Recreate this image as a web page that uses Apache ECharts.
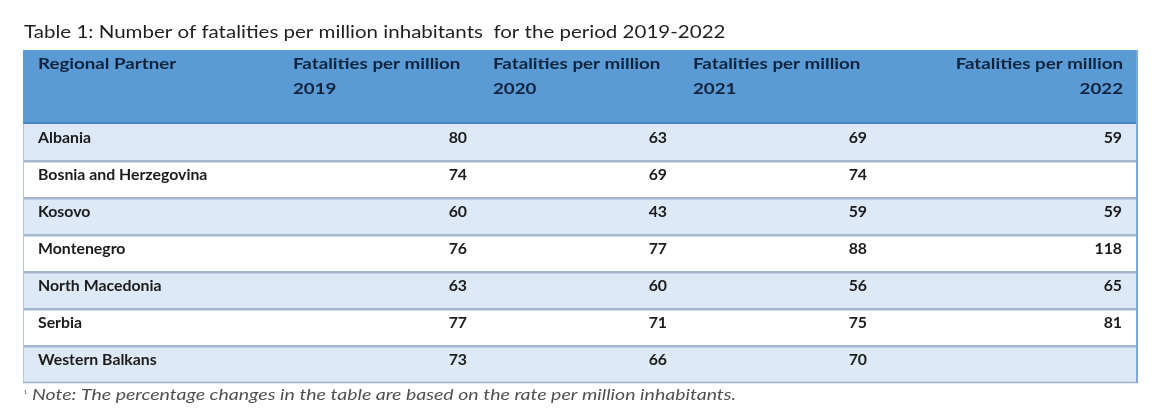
<!DOCTYPE html>
<html>
<head>
<meta charset="utf-8">
<script src="https://cdn.jsdelivr.net/npm/echarts@6/dist/echarts.min.js"></script>
<style>html,body{margin:0;padding:0;background:#fff;}#main{width:1156px;height:418px;}</style>
</head>
<body>
<div id="main"></div>
<script>
// ---- data ----
const regions = ['Albania', 'Bosnia and Herzegovina', 'Kosovo', 'Montenegro', 'North Macedonia', 'Serbia', 'Western Balkans'];
const fat2019 = [80, 74, 60, 76, 63, 77, 73];
const fat2020 = [63, 69, 43, 77, 60, 71, 66];
const fat2021 = [69, 74, 59, 88, 56, 75, 70];
const fat2022 = [59, null, 59, 118, 65, 81, null];
const headerLabels = ['Regional Partner', 'Fatalities per million\n2019', 'Fatalities per million\n2020', 'Fatalities per million\n2021', 'Fatalities per million\n2022'];
const titleText = 'Table 1: Number of fatalities per million inhabitants  for the period 2019-2022';
const noteText = 'Note: The percentage changes in the table are based on the rate per million inhabitants.';

// ---- layout (not data) ----
const colEdges = [0, 260, 460, 660, 860, 1115];
const TOTAL = colEdges[colEdges.length - 1];
const HEADER_UNITS = 2;
const FONT = 'Lato, "Noto Sans", sans-serif';
const HEADER_SCALE = 1.17;
const BODY_SCALE = 0.99;
const columns = [null, fat2019, fat2020, fat2021, fat2022];

function renderHeader(params, api) {
  const tl = api.coord([0, 0]);
  const br = api.coord([TOTAL, HEADER_UNITS]);
  const children = [{
    type: 'rect', shape: {x: tl[0], y: tl[1], width: br[0] - tl[0], height: br[1] - tl[1]},
    style: {fill: '#5b9bd5'}
  }, {
    type: 'rect', shape: {x: tl[0], y: br[1] - 2, width: br[0] - tl[0], height: 2},
    style: {fill: '#4a83bb'}
  }];
  headerLabels.forEach(function (lab, c) {
    const last = c === headerLabels.length - 1;
    const x = last ? api.coord([colEdges[c + 1] - 15, 0])[0]
                   : api.coord([colEdges[c] + (c === 0 ? 15 : 10), 0])[0];
    children.push({
      type: 'text', x: x, y: tl[1] + 1, scaleX: HEADER_SCALE,
      style: {
        x: 0, y: 0, text: lab, align: last ? 'right' : 'left', verticalAlign: 'top',
        font: 'bold 16px ' + FONT, lineHeight: 25, fill: '#10243d'
      }
    });
  });
  return {type: 'group', children: children};
}

function renderRow(params, api) {
  const r = api.value(0);
  const tl = api.coord([0, r + HEADER_UNITS]);
  const br = api.coord([TOTAL, r + HEADER_UNITS + 1]);
  const h = br[1] - tl[1];
  const cy = tl[1] + h / 2 - 5;
  const children = [{
    type: 'rect', shape: {x: tl[0], y: tl[1], width: br[0] - tl[0], height: h},
    style: {fill: r % 2 === 0 ? '#dde9f6' : '#ffffff'}
  }];
  if (r > 0) {
    children.push({type: 'rect', shape: {x: tl[0], y: tl[1] - 1, width: br[0] - tl[0], height: 2.5}, style: {fill: '#a3b6cc'}});
  }
  children.push({
    type: 'text', x: api.coord([colEdges[0] + 15, 0])[0], y: cy, scaleX: BODY_SCALE,
    style: {x: 0, y: 0, text: regions[r], align: 'left', verticalAlign: 'middle',
      font: 'bold 16px ' + FONT, fill: '#1b1b1b'}
  });
  for (let c = 1; c < columns.length; c++) {
    const v = columns[c][r];
    if (v === null || v === undefined) continue;
    children.push({
      type: 'text', x: api.coord([colEdges[c + 1] - 16, 0])[0], y: cy, scaleX: BODY_SCALE,
      style: {x: 0, y: 0, text: String(v), align: 'right', verticalAlign: 'middle',
        font: 'bold 16px ' + FONT, fill: '#1b1b1b'}
    });
  }
  return {type: 'group', children: children};
}

function renderFrame(params, api) {
  const tl = api.coord([0, HEADER_UNITS]);
  const br = api.coord([TOTAL, HEADER_UNITS + regions.length]);
  const top = api.coord([0, 0]);
  return {type: 'group', children: [
    {type: 'line', shape: {x1: tl[0] + 0.5, y1: tl[1], x2: tl[0] + 0.5, y2: br[1]}, style: {stroke: '#b4c6da', lineWidth: 1}},
    {type: 'line', shape: {x1: tl[0], y1: br[1] - 0.5, x2: br[0], y2: br[1] - 0.5}, style: {stroke: '#9db3cc', lineWidth: 1.5}},
    {type: 'line', shape: {x1: br[0] - 1, y1: top[1], x2: br[0] - 1, y2: br[1]}, style: {stroke: '#7fa8d6', lineWidth: 2}}
  ]};
}

const chart = echarts.init(document.getElementById('main'));
chart.setOption({
  backgroundColor: '#ffffff',
  animation: false,
  graphic: [{
    type: 'text', x: 24, y: 23, scaleX: 1.14, silent: true,
    style: {text: titleText, font: '18px ' + FONT, fill: '#1f1f1f', verticalAlign: 'top'}
  }, {
    type: 'text', x: 24, y: 391, silent: true,
    style: {text: '\u00b9', font: '9px ' + FONT, fill: '#666', verticalAlign: 'top'}
  }, {
    type: 'text', x: 32, y: 388, scaleX: 1.3, silent: true,
    style: {text: noteText, font: 'italic 15px ' + FONT, fill: '#505050', verticalAlign: 'top'}
  }],
  grid: {left: 23, right: 18, top: 50, bottom: 35},
  xAxis: {type: 'value', min: 0, max: TOTAL, show: false},
  yAxis: {type: 'value', min: 0, max: HEADER_UNITS + regions.length, inverse: true, show: false},
  series: [{
    type: 'custom', renderItem: renderHeader, data: [[0]], silent: true
  }, {
    type: 'custom', renderItem: renderRow, data: regions.map(function (_, i) { return [i]; }), silent: true
  }, {
    type: 'custom', renderItem: renderFrame, data: [[0]], silent: true
  }]
});
</script>
</body>
</html>
